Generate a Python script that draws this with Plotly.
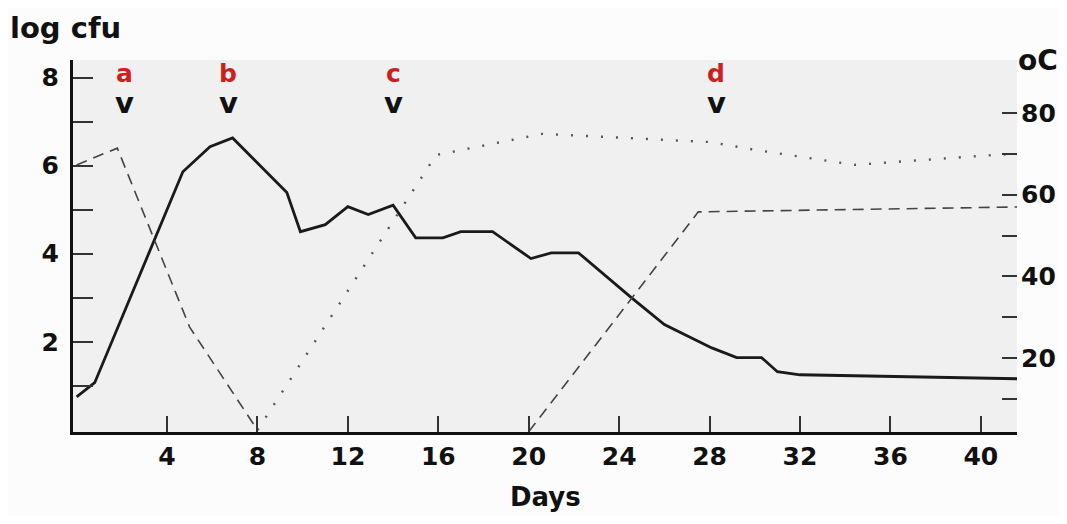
import plotly.graph_objects as go

# Log cfu (solid line), left axis
cfu_days = [0, 0.8, 4.7, 5.9, 6.9, 9.3, 9.9, 11.0, 12.0, 12.9, 14.0, 15.0, 16.2, 17.0, 18.4,
            20.1, 21.0, 22.2, 24.5, 26.0, 28.1, 29.2, 30.3, 31.0, 32.0, 41.6]
cfu_vals = [0.75, 1.07, 5.86, 6.43, 6.63, 5.39, 4.5, 4.66, 5.07, 4.89, 5.1, 4.36, 4.36, 4.5, 4.5,
            3.89, 4.02, 4.02, 3.02, 2.39, 1.86, 1.64, 1.64, 1.32, 1.25, 1.16]

# Temperature (dashed) - first phase
temp1_days = [0, 1.8, 5.0, 8.0]
temp1_vals = [67.3, 71.4, 27.6, 2.4]

# Temperature (dotted)
temp2_days = [8.0, 15.9, 20.6, 28.0, 30.0, 34.4, 40.5, 41.6]
temp2_vals = [2.4, 69.7, 74.9, 72.9, 71.0, 67.3, 69.7, 70.0]

# Temperature (dashed) - second phase
temp3_days = [20.0, 27.5, 41.6]
temp3_vals = [2.0, 55.8, 57.0]

# Markers a-d
mark_labels = ["a", "b", "c", "d"]
mark_days = [2.14, 6.7, 14.0, 28.3]

x_ticks = [4, 8, 12, 16, 20, 24, 28, 32, 36, 40]
y_ticks = [1, 2, 3, 4, 5, 6, 7, 8]
y_ticktext = ["", "2", "", "4", "", "6", "", "8"]
y2_ticks = [10, 20, 30, 40, 50, 60, 70, 80]
y2_ticktext = ["", "20", "", "40", "", "60", "", "80"]

FONT = "DejaVu Sans"
BOLD = "bold"

fig = go.Figure()
fig.add_trace(go.Scatter(x=cfu_days, y=cfu_vals, mode="lines",
                         line=dict(color="#1a1a1a", width=2.8), yaxis="y"))
fig.add_trace(go.Scatter(x=temp1_days, y=temp1_vals, mode="lines",
                         line=dict(color="#444444", width=1.6, dash="11px,7px"), yaxis="y2"))
fig.add_trace(go.Scatter(x=temp2_days, y=temp2_vals, mode="lines",
                         line=dict(color="#555555", width=2.4, dash="2px,13px"), yaxis="y2"))
fig.add_trace(go.Scatter(x=temp3_days, y=temp3_vals, mode="lines",
                         line=dict(color="#444444", width=1.6, dash="11px,7px"), yaxis="y2"))

for lab, d in zip(mark_labels, mark_days):
    fig.add_annotation(x=d, y=8.1, xref="x", yref="y", text=lab,
                       showarrow=False,
                       font=dict(family=FONT, size=25, color="#cc1f1f", weight=BOLD))
    fig.add_annotation(x=d, y=7.42, xref="x", yref="y", text="v",
                       showarrow=False,
                       font=dict(family=FONT, size=29, color="#111111", weight=BOLD))

fig.add_annotation(x=-0.069, y=1.086, xref="paper", yref="paper", xanchor="left", yanchor="middle",
                   text="log cfu", showarrow=False,
                   font=dict(family=FONT, size=29, color="#111111", weight=BOLD))
fig.add_annotation(x=0.999, y=1.0, xref="paper", yref="paper", xanchor="left", yanchor="middle",
                   text="oC", showarrow=False,
                   font=dict(family=FONT, size=28, color="#111111", weight=BOLD))
fig.add_annotation(x=0.5, y=-0.176, xref="paper", yref="paper", xanchor="center", yanchor="middle",
                   text="Days", showarrow=False,
                   font=dict(family=FONT, size=26, color="#111111", weight=BOLD))

tickfont = dict(family=FONT, size=25, color="#111111", weight=BOLD)

fig.update_layout(
    width=1051, height=508,
    margin=dict(l=65, r=42, t=52, b=84),
    paper_bgcolor="#fcfcfc", plot_bgcolor="#f0f0f0",
    showlegend=False,
    font=dict(family=FONT, color="#111111"),
    xaxis=dict(range=[-0.16, 41.6], tickvals=x_ticks, ticks="inside", ticklen=16,
               tickwidth=2, tickcolor="#333333", showgrid=False, zeroline=False,
               showline=True, linecolor="#111111", linewidth=3,
               tickfont=tickfont, automargin=False),
    yaxis=dict(range=[-0.05, 8.4], tickvals=y_ticks, ticktext=y_ticktext,
               ticks="inside", ticklen=20, tickwidth=2, tickcolor="#333333",
               showgrid=False, zeroline=False, showline=True, linecolor="#111111", linewidth=3,
               tickfont=tickfont, ticklabelstandoff=6, automargin=False),
    yaxis2=dict(range=[1.93, 92.97], overlaying="y", side="right", anchor="x",
                tickvals=y2_ticks, ticktext=y2_ticktext,
                ticks="inside", ticklen=15, tickwidth=2, tickcolor="#333333",
                showgrid=False, zeroline=False, showline=False,
                tickfont=tickfont, ticklabelstandoff=3, automargin=False),
)

fig.write_html("out.html")
